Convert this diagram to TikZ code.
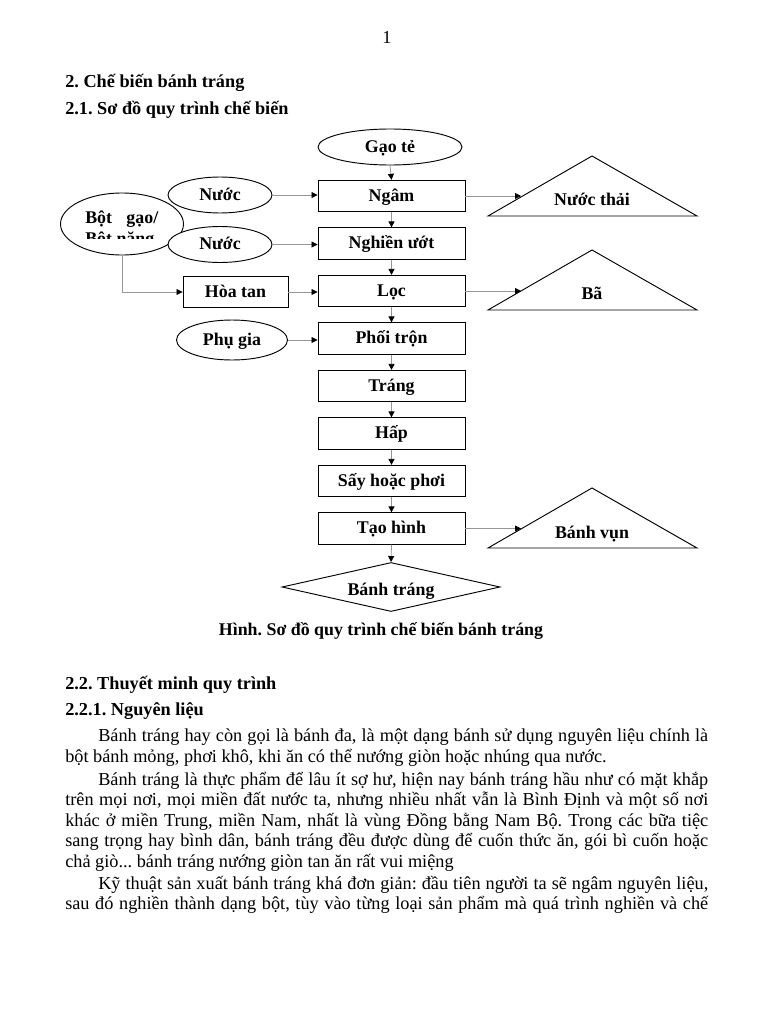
\documentclass[tikz,border=0pt]{standalone}
\usepackage{fontspec}
\setmainfont{Liberation Serif}
\usetikzlibrary{arrows.meta, shapes.geometric}
\definecolor{flowG}{RGB}{150,150,150}
\newcommand{\dfont}{\fontsize{13.4}{16}\selectfont\bfseries\frenchspacing}
\newcommand{\bfont}{\fontsize{13.7}{16}\selectfont\frenchspacing}
\tikzset{
  stepbox/.style={draw, line width=0.7pt, rectangle, minimum width=110.25pt, minimum height=23.5pt,
    inner sep=0pt, text height=8pt, text depth=0pt, font=\dfont},
  inoval/.style={draw, line width=0.7pt, ellipse, fill=white, inner sep=0pt,
    text height=8pt, text depth=0pt, font=\dfont},
  outlabel/.style={anchor=base, inner sep=0pt, font=\dfont},
  flow/.style={draw=flowG, line width=0.6pt, -{Triangle[length=4.5pt, width=4.5pt, color=black]}},
  bodytxt/.style={anchor=base west, inner sep=0pt, font=\bfont},
  headtxt/.style={anchor=base west, inner sep=0pt, font=\bfont\bfseries}}

\begin{document}
\begin{tikzpicture}[x=0.75pt, y=-0.75pt]
\fill[white] (0,0) rectangle (768,1024);
\useasboundingbox (0,0) rectangle (768,1024);
% ---- page header ----
\node[anchor=base, inner sep=0pt, font=\bfont] (pageno) at (387,44) {1};
\node[headtxt] (h2) at (65,88) {2. Chế biến bánh tráng};
\node[headtxt] (h21) at (65,114) {2.1. Sơ đồ quy trình chế biến};
% ---- main column of steps ----
\node[inoval, minimum width=108pt, minimum height=27pt] (gao) at (390,147) {Gạo tẻ};
\node[stepbox] (ngam) at (391.5,196) {Ngâm};
\node[stepbox] (nghien) at (391.5,243.5) {Nghiền ướt};
\node[stepbox] (loc) at (391.5,291) {Lọc};
\node[stepbox] (phoi) at (391.5,338.5) {Phối trộn};
\node[stepbox] (trang) at (391.5,386) {Tráng};
\node[stepbox] (hap) at (391.5,433.5) {Hấp};
\node[stepbox] (say) at (391.5,481) {Sấy hoặc phơi};
\node[stepbox] (taohinh) at (391.5,528.5) {Tạo hình};
\node[draw, line width=0.7pt, diamond, aspect=4.4, inner sep=0pt, minimum width=163.5pt,
  minimum height=36.75pt, text height=12pt, text depth=0pt, font=\dfont] (banhtrang) at (391,587) {Bánh tráng};
\foreach \a/\b in {gao/ngam, ngam/nghien, nghien/loc, loc/phoi, phoi/trang, trang/hap, hap/say, say/taohinh, taohinh/banhtrang}{
  \draw[flow] (\a.south) -- (\b.north);}
% ---- inputs on the left ----
\node[inoval, minimum width=92.25pt, minimum height=46.5pt] (bot) at (122,224) {};
\begin{scope}
\clip (60,195) rectangle (185,238.5);
\node[anchor=base west, inner sep=0pt, font=\dfont] (bot1) at (85,223) {\makebox[54.75pt][s]{Bột gạo/}};
\node[anchor=base west, inner sep=0pt, font=\dfont] (bot2) at (85,244) {Bột năng};
\end{scope}
\node[inoval, minimum width=78pt, minimum height=27pt] (nuoc1) at (220,195) {Nước};
\node[inoval, minimum width=78pt, minimum height=27pt] (nuoc2) at (220,244.5) {Nước};
\node[stepbox, minimum width=78.75pt, minimum height=23.25pt] (hoatan) at (235.5,292) {Hòa tan};
\node[inoval, minimum width=83.25pt, minimum height=30pt] (phugia) at (232,340) {Phụ gia};
\draw[flow] (nuoc1.east) -- (ngam.west |- nuoc1.east);
\draw[flow] (nuoc2.east) -- (nghien.west |- nuoc2.east);
\draw[flow] (bot.south) |- (hoatan.west);
\draw[flow] (hoatan.east) -- (loc.west |- hoatan.east);
\draw[flow] (phugia.east) -- (phoi.west |- phugia.east);
% ---- waste outputs on the right ----
\draw[line width=0.7pt] (488,216) -- (592,156) -- (697,216) -- cycle;
\draw[line width=0.7pt] (488,310) -- (592,250) -- (697,310) -- cycle;
\draw[line width=0.7pt] (488,548) -- (592,488) -- (697,548) -- cycle;
\node[outlabel] (thai) at (592,205) {Nước thải};
\node[outlabel] (ba) at (592,299) {Bã};
\node[outlabel] (vun) at (592,538) {Bánh vụn};
\coordinate (thaiin) at (521,196);
\coordinate (bain) at (521,291);
\coordinate (vunin) at (521,528.5);
\draw[flow] (ngam.east) -- (thaiin);
\draw[flow] (loc.east) -- (bain);
\draw[flow] (taohinh.east) -- (vunin);
% ---- caption ----
\node[outlabel] (cap) at (381,635) {Hình. Sơ đồ quy trình chế biến bánh tráng};
% ---- text below ----
\node[headtxt] (h22) at (65,689) {2.2. Thuyết minh quy trình};
\node[headtxt] (h221) at (65,715) {2.2.1. Nguyên liệu};
\node[bodytxt] (p1a) at (98,741) {\makebox[457.5pt][s]{Bánh tráng hay còn gọi là bánh đa, là một dạng bánh sử dụng nguyên liệu chính là}};
\node[bodytxt] (p1b) at (65,762) {bột bánh mỏng, phơi khô, khi ăn có thể nướng giòn hoặc nhúng qua nước.};
\node[bodytxt] (p2a) at (98,785) {\makebox[457.5pt][s]{Bánh tráng là thực phẩm để lâu ít sợ hư, hiện nay bánh tráng hầu như có mặt khắp}};
\node[bodytxt] (p2b) at (65,805.5) {\makebox[482.25pt][s]{trên mọi nơi, mọi miền đất nước ta, nhưng nhiều nhất vẫn là Bình Định và một số nơi}};
\node[bodytxt] (p2c) at (65,826) {\makebox[482.25pt][s]{khác ở miền Trung, miền Nam, nhất là vùng Đồng bằng Nam Bộ. Trong các bữa tiệc}};
\node[bodytxt] (p2d) at (65,846.5) {\makebox[482.25pt][s]{sang trọng hay bình dân, bánh tráng đều được dùng để cuốn thức ăn, gói bì cuốn hoặc}};
\node[bodytxt] (p2e) at (65,867) {chả giò... bánh tráng nướng giòn tan ăn rất vui miệng};
\node[bodytxt] (p3a) at (98,889) {\makebox[457.5pt][s]{Kỹ thuật sản xuất bánh tráng khá đơn giản: đầu tiên người ta sẽ ngâm nguyên liệu,}};
\node[bodytxt] (p3b) at (65,909.5) {\makebox[482.25pt][s]{sau đó nghiền thành dạng bột, tùy vào từng loại sản phẩm mà quá trình nghiền và chế}};
\end{tikzpicture}
\end{document}
